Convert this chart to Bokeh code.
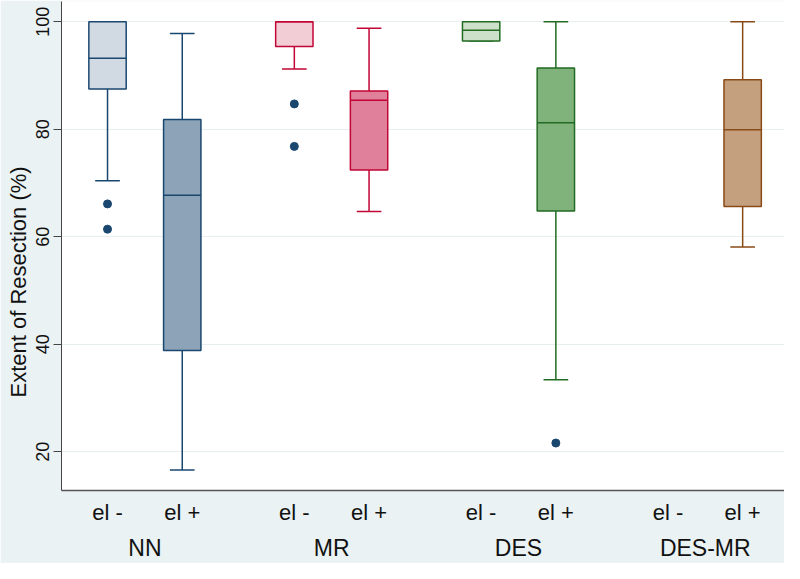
import pandas as pd
from bokeh.plotting import figure
from bokeh.models import Range1d, FixedTicker, LinearAxis, ColumnDataSource, Title
from bokeh.embed import file_html
from bokeh.resources import INLINE

# ---- data ----
groups = ["NN", "MR", "DES", "DES-MR"]
subgroups = ["el -", "el +"]

lower_whisker = [70.4, 16.6, 91.2, 64.7, 96.4, 33.4, None, 58.1]
q1 = [87.5, 38.8, 95.4, 72.4, 96.4, 64.8, None, 65.6]
median = [93.2, 67.7, 100.0, 85.4, 98.4, 81.2, None, 79.9]
q3 = [100.0, 81.8, 100.0, 87.1, 100.0, 91.4, None, 89.2]
upper_whisker = [100.0, 97.8, 100.0, 98.8, 100.0, 100.0, None, 100.0]

outlier_box = [0, 0, 2, 2, 5]
outlier_value = [66.1, 61.4, 84.7, 76.8, 21.6]

edge_colors = ["#1a476f", "#1a476f", "#c10534", "#c10534",
               "#226b22", "#226b22", "#8a4a16", "#8a4a16"]
fill_colors = ["#d1dae3", "#8da3b8", "#f3cdd6", "#e0809a",
               "#cde0c9", "#80b27c", "#c4a07f", "#c4a07f"]

y_title = "Extent of Resection (%)"
y_ticks = [20, 40, 60, 80, 100]

# ---- layout parameters ----
GROUP_STEP = 2.5
BOX_W = 0.5
CAP_W = 0.33
FONT = "Liberation Sans"

pos = [g * GROUP_STEP + s for g in range(len(groups)) for s in range(len(subgroups))]
sub_labels = [sub for g in groups for sub in subgroups]
group_pos = [g * GROUP_STEP + 0.5 for g in range(len(groups))]

df = pd.DataFrame(dict(x=pos, lw=lower_whisker, q1=q1, med=median, q3=q3,
                       uw=upper_whisker, edge=edge_colors, fill=fill_colors))
df = df.dropna().reset_index(drop=True)
df["left"] = df.x - BOX_W / 2
df["right"] = df.x + BOX_W / 2
df["cl"] = df.x - CAP_W / 2
df["cr"] = df.x + CAP_W / 2
src = ColumnDataSource(df)

out_src = ColumnDataSource(dict(x=[pos[i] for i in outlier_box], y=outlier_value))

p = figure(width=784, height=563,
           x_range=Range1d(-0.616, 9.06), y_range=Range1d(12.77, 103.76),
           output_backend="svg", toolbar_location=None,
           background_fill_color="white", border_fill_color="#eaf2f3",
           min_border_left=61, min_border_right=0, min_border_top=1,
           min_border_bottom=71)
p.outline_line_color = None

# whisker stems
p.segment(x0="x", x1="x", y0="q3", y1="uw", line_color="edge", line_width=1.5, source=src)
p.segment(x0="x", x1="x", y0="lw", y1="q1", line_color="edge", line_width=1.5, source=src)
# caps
p.segment(x0="cl", x1="cr", y0="uw", y1="uw", line_color="edge", line_width=1.5, source=src)
p.segment(x0="cl", x1="cr", y0="lw", y1="lw", line_color="edge", line_width=1.5, source=src)
# boxes
p.vbar(x="x", width=BOX_W, bottom="q1", top="q3", fill_color="fill",
       line_color="edge", line_width=1.5, source=src)
# medians
p.segment(x0="left", x1="right", y0="med", y1="med", line_color="edge", line_width=1.5, source=src)
# outliers
p.scatter(x="x", y="y", size=8, marker="circle", fill_color="#1a476f",
          line_color="#1a476f", source=out_src)

# grid
p.xgrid.visible = False
p.ygrid.ticker = FixedTicker(ticks=y_ticks)
p.ygrid.grid_line_color = "#e6eef0"
p.ygrid.grid_line_width = 1

# y axis
ya = p.yaxis[0]
ya.ticker = FixedTicker(ticks=y_ticks)
ya.minor_tick_line_color = None
ya.major_tick_out = 8
ya.major_tick_in = 0
ya.major_tick_line_color = "#444444"
ya.axis_line_color = "#444444"
ya.major_label_orientation = "vertical"
ya.major_label_text_font = FONT
ya.major_label_text_font_size = "18px"
ya.major_label_text_color = "#111111"
ya.major_label_standoff = 4

# y title (placed like the reference, below the frame centre)
yt = Title(text=y_title, align="left", offset=93, standoff=5,
           text_font=FONT, text_font_size="22px", text_font_style="normal",
           text_color="#111111")
p.add_layout(yt, "left")

# x axis: sub labels
xa = p.xaxis[0]
xa.ticker = FixedTicker(ticks=pos)
xa.major_label_overrides = {float(k): v for k, v in zip(pos, sub_labels)}
xa.minor_tick_line_color = None
xa.major_tick_line_color = None
xa.major_tick_out = 0
xa.major_tick_in = 0
xa.axis_line_color = "#555555"
xa.axis_line_width = 1.5
xa.major_label_text_font = FONT
xa.major_label_text_font_size = "22px"
xa.major_label_text_color = "#111111"
xa.major_label_standoff = 9

# x axis: group labels
ga = LinearAxis(ticker=FixedTicker(ticks=group_pos),
                major_label_overrides={float(k): v for k, v in zip(group_pos, groups)})
ga.axis_line_color = None
ga.major_tick_line_color = None
ga.minor_tick_line_color = None
ga.major_tick_out = 0
ga.major_tick_in = 0
ga.major_label_text_font = FONT
ga.major_label_text_font_size = "23px"
ga.major_label_text_color = "#111111"
ga.major_label_standoff = 7
p.add_layout(ga, "below")

open("out.html", "w").write(file_html(p, INLINE))
